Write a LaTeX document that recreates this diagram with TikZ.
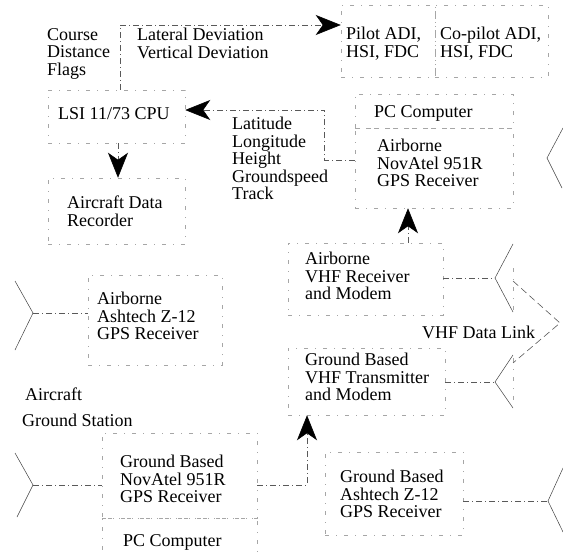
\documentclass[tikz,border=0pt]{standalone}
\usepackage{fontspec}
\setmainfont{Liberation Serif}
\usetikzlibrary{arrows.meta}

\begin{document}
\begin{tikzpicture}[x=1pt,y=-1pt,
    box/.style={draw=black!35, line width=0.5pt, dash pattern=on 4pt off 7pt on 1pt off 7pt, inner sep=0pt},
    txt/.style={anchor=north west, inner sep=0pt, align=left, font=\fontsize{18}{17.5}\selectfont},
    flow/.style={draw=black!65, line width=0.6pt, dash pattern=on 6pt off 3pt on 1pt off 3pt},
    bigtip/.style={-{Stealth[length=25pt,width=20pt,inset=7pt,color=black]}},
    ant/.style={draw=black!75, line width=0.5pt},
    link/.style={draw=black!65, line width=0.6pt, dash pattern=on 7pt off 4pt}]
    \useasboundingbox (0,0) rectangle (563,554);
    \clip (0,0) rectangle (563,554);

    % caixes
    \node[box, minimum width=94pt, minimum height=72pt] (pilot) at (388,41) {};
    \node[box, minimum width=113pt, minimum height=72pt] (copilot) at (491.5,41) {};
    \node[box, minimum width=137pt, minimum height=53pt] (lsi) at (116.5,116.5) {};
    \node[box, minimum width=137pt, minimum height=66pt] (recorder) at (116.5,211) {};
    \node[box, minimum width=158pt, minimum height=34pt] (pcair) at (434,111) {};
    \node[box, minimum width=158pt, minimum height=80pt] (novair) at (434,168) {};
    \node[box, minimum width=155pt, minimum height=72pt] (vhfrx) at (365.5,279) {};
    \node[box, minimum width=134pt, minimum height=90pt] (ashair) at (155,320) {};
    \node[box, minimum width=157pt, minimum height=67pt] (vhftx) at (366.5,381.5) {};
    \node[box, minimum width=155pt, minimum height=85pt] (novgnd) at (179.5,475.5) {};
    \node[box, minimum width=155pt, minimum height=42pt] (pcgnd) at (179.5,539) {};
    \node[box, minimum width=138pt, minimum height=83pt] (ashgnd) at (394,493.5) {};

    % textos
    \node[txt] (crs) at (47,28) {Course\\Distance\\Flags};
    \node[txt] (dev) at (137,28) {Lateral Deviation\\Vertical Deviation};
    \node[txt] (pilottxt) at (346,27) {Pilot ADI,\\HSI, FDC};
    \node[txt] (copilottxt) at (440,27) {Co-pilot ADI,\\HSI, FDC};
    \node[txt] (pcairtxt) at (374,105) {PC Computer};
    \node[txt] (lsitxt) at (58,107) {LSI 11/73 CPU};
    \node[txt] (postxt) at (232,117) {Latitude\\Longitude\\Height\\Groundspeed\\Track};
    \node[txt] (novairtxt) at (377,139) {Airborne\\NovAtel 951R\\GPS Receiver};
    \node[txt] (rectxt) at (67,196) {Aircraft Data\\Recorder};
    \node[txt] (vhfrxtxt) at (305,252) {Airborne\\VHF Receiver\\and Modem};
    \node[txt] (linktxt) at (422,326) {VHF Data Link};
    \node[txt] (ashairtxt) at (97,292) {Airborne\\Ashtech Z-12\\GPS Receiver};
    \node[txt] (acfttxt) at (25,388) {Aircraft};
    \node[txt] (gndtxt) at (22,414) {Ground Station};
    \node[txt] (vhftxtxt) at (305,353) {Ground Based\\VHF Transmitter\\and Modem};
    \node[txt] (novgndtxt) at (120,455) {Ground Based\\NovAtel 951R\\GPS Receiver};
    \node[txt] (pcgndtxt) at (123,534) {PC Computer};
    \node[txt] (ashgndtxt) at (340,470) {Ground Based\\Ashtech Z-12\\GPS Receiver};

    % fletxes
    \draw[flow, bigtip] ([xshift=3.5pt]lsi.north) |- ([yshift=16pt]pilot.west);
    \draw[flow, bigtip] ([yshift=8pt]novair.west) -- ++(-30,0) |- ([yshift=6.5pt]lsi.east);
    \draw[flow, bigtip] ([xshift=1.5pt]lsi.south) -- ([xshift=1.5pt]recorder.north);
    \draw[flow, bigtip] ([xshift=42.5pt]vhfrx.north) -- ([xshift=42.5pt]vhfrx.north |- novair.south);
    \draw[flow, bigtip] ([yshift=-9.5pt]novgnd.east) -| ([xshift=-59.5pt]vhftx.south);

    % antenes
    \coordinate (antnovair) at (547,158);
    \draw[ant] (563,128) -- (antnovair) -- (562,188);
    \coordinate (antrx) at (495,278);
    \draw[ant] (513,244) -- (antrx) -- (513,312);
    \coordinate (anttx) at (495,382);
    \draw[ant] (513,355) -- (anttx) -- (513,408);
    \coordinate (antashgnd) at (548,501);
    \draw[ant] (563,468) -- (antashgnd) -- (563,532);
    \coordinate (antashair) at (33,313);
    \draw[ant] (15,281) -- (antashair) -- (15,350);
    \coordinate (antnovgnd) at (33,485);
    \draw[ant] (15,453) -- (antnovgnd) -- (17,517);

    \draw[flow] (antrx -| vhfrx.east) -- (antrx);
    \draw[flow] (anttx -| vhftx.east) -- (anttx);
    \draw[flow] (antashgnd -| ashgnd.east) -- (antashgnd);
    \draw[flow] (antashair) -- (antashair -| ashair.west);
    \draw[flow] (antnovgnd) -- (antnovgnd -| novgnd.west);

    % enllac VHF
    \draw[box] (513,268) -- (513,312);
    \draw[box] (513,358) -- (513,402);
    \draw[link] (513,281) -- (560,323) -- (513,363);
\end{tikzpicture}
\end{document}
